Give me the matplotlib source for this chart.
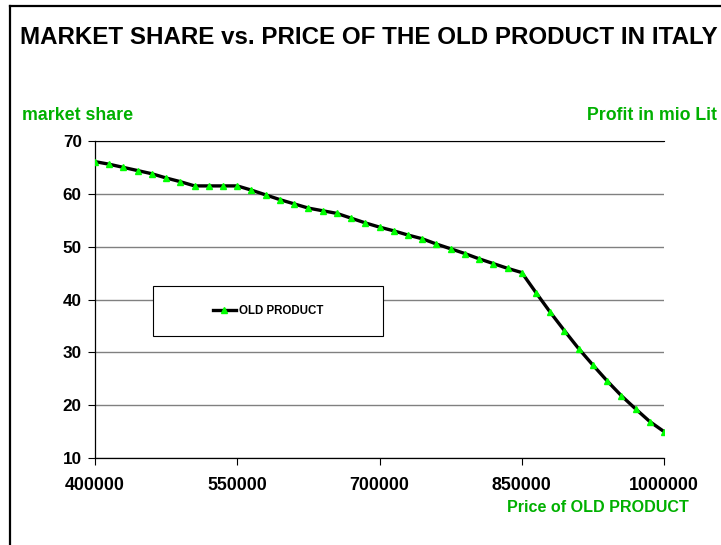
import matplotlib
matplotlib.use("Agg")
import matplotlib.pyplot as plt
from matplotlib.lines import Line2D
from matplotlib.patches import Rectangle

# Data
prices = list(range(400000, 1000001, 15000))
market_share = [66.1, 65.6, 65.0, 64.4, 63.8, 63.0, 62.3, 61.5, 61.5, 61.5,
                61.5, 60.7, 59.8, 58.9, 58.1, 57.3, 56.8, 56.3, 55.4, 54.5,
                53.7, 53.0, 52.2, 51.5, 50.5, 49.6, 48.7, 47.7, 46.8, 45.9,
                45.1, 41.3, 37.6, 34.1, 30.7, 27.6, 24.6, 21.8, 19.3, 16.9,
                15.0]
x_ticks = [400000, 550000, 700000, 850000, 1000000]
y_ticks = [10, 20, 30, 40, 50, 60, 70]

GREEN_TXT = "#00B000"
GREEN_MK = "#00FF00"

plt.rcParams.update({
    "font.family": "Liberation Sans",
    "font.weight": "bold",
})

W, H = 721, 545
fig = plt.figure(figsize=(W / 100, H / 100), dpi=100)
ax = fig.add_axes([95 / W, 1 - 458 / H, (664 - 95) / W, (458 - 141) / H])

ax.plot(prices, market_share, color="black", lw=2.4, marker="^",
        markersize=4.2, markerfacecolor=GREEN_MK, markeredgecolor=GREEN_MK,
        label="OLD PRODUCT", zorder=3)

ax.set_xlim(400000, 1000000)
ax.set_ylim(10, 70)
ax.set_xticks(x_ticks)
ax.set_xticklabels([str(v) for v in x_ticks])
ax.set_yticks(y_ticks)
ax.tick_params(axis="both", direction="out", length=5, width=0.8, colors="black")
ax.tick_params(axis="x", pad=9, labelsize=12.8)
ax.tick_params(axis="y", pad=4.5, labelsize=12.3)
for t in ax.get_xticklabels() + ax.get_yticklabels():
    t.set_fontweight("bold")

ax.yaxis.grid(True, color="#808080", lw=1.0)
ax.set_axisbelow(True)
ax.spines["right"].set_visible(False)
ax.spines["top"].set_color("black")
ax.spines["top"].set_linewidth(0.8)
ax.spines["left"].set_linewidth(0.9)
ax.spines["bottom"].set_linewidth(0.9)

# legend box
ax.add_patch(Rectangle((0.102, 0.385), 0.404, 0.158, transform=ax.transAxes,
                       facecolor="white", edgecolor="black", lw=0.8, zorder=4))
ax.legend(loc="center", bbox_to_anchor=(0.304, 0.464), frameon=False,
          prop={"size": 8.3, "weight": "bold"}, handlelength=2.0,
          handletextpad=0.3).set_zorder(5)

# texts
fig.text(20 / W, 1 - 37 / H, "MARKET SHARE vs. PRICE OF THE OLD PRODUCT IN ITALY",
         fontsize=17.4, fontweight="bold", va="center", ha="left")
fig.text(22 / W, 1 - 115 / H, "market share", color=GREEN_TXT,
         fontsize=12.8, fontweight="bold", va="center", ha="left")
fig.text(717 / W, 1 - 115 / H, "Profit in mio Lit", color=GREEN_TXT,
         fontsize=12.8, fontweight="bold", va="center", ha="right")
fig.text(689 / W, 1 - 508 / H, "Price of OLD PRODUCT", color=GREEN_TXT,
         fontsize=11.6, fontweight="bold", va="center", ha="right")

# chart frame (left and top edges visible)
fig.add_artist(Line2D([10 / W, 10 / W], [0, 1 - 6 / H], color="black", lw=1.6))
fig.add_artist(Line2D([10 / W, 1], [1 - 6 / H, 1 - 6 / H], color="black", lw=1.6))

fig.savefig("out.png", dpi=100)
